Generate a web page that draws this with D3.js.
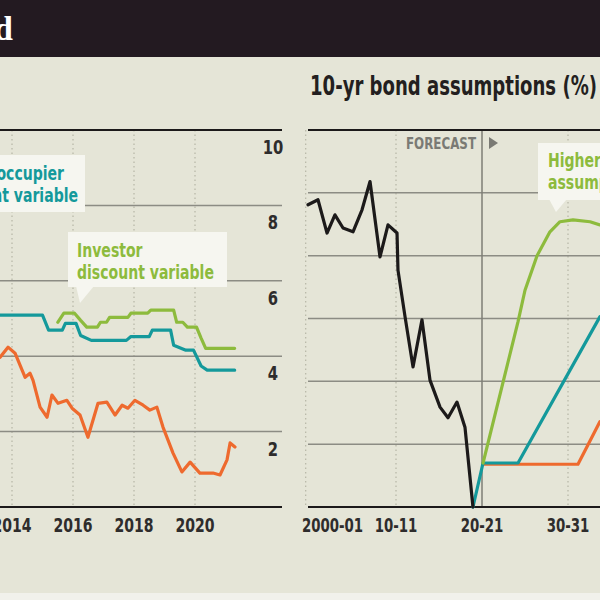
<!DOCTYPE html>
<html lang="en">
<head>
<meta charset="utf-8">
<title>Rates and bond assumptions</title>
<script src="https://d3js.org/d3.v7.min.js"></script>
<style>
  body { margin: 0; background: #f1f1eb; }
  svg { display: block; }
  text { font-family: "DejaVu Sans Condensed", "Liberation Sans Narrow", "Noto Sans", sans-serif; }
</style>
</head>
<body>
<script>
// ---- data: left panel (mortgage rates, %) ----
var leftYears = [2014, 2016, 2018, 2020];
var leftTicks = [2, 4, 6, 8, 10];

// owner-occupier discount variable (teal)
var ownerVariable = [
  [2013.6, 5.09], [2015.0, 5.09], [2015.2, 4.69], [2015.65, 4.69], [2015.75, 4.87],
  [2016.1, 4.87], [2016.25, 4.55], [2016.6, 4.42], [2017.75, 4.42], [2017.9, 4.52],
  [2018.5, 4.52], [2018.6, 4.69], [2019.2, 4.69], [2019.3, 4.29], [2019.7, 4.16],
  [2019.95, 4.16], [2020.2, 3.74], [2020.4, 3.63], [2021.3, 3.63]
];
// investor discount variable (green)
var investorVariable = [
  [2015.5, 4.9], [2015.7, 5.14], [2016.05, 5.14], [2016.25, 4.95], [2016.45, 4.77],
  [2016.8, 4.77], [2016.9, 4.9], [2017.1, 4.9], [2017.2, 5.03], [2017.8, 5.03],
  [2017.9, 5.14], [2018.45, 5.14], [2018.55, 5.22], [2019.3, 5.22], [2019.4, 4.9],
  [2019.6, 4.9], [2019.75, 4.77], [2020.05, 4.77], [2020.2, 4.48], [2020.35, 4.21],
  [2021.3, 4.21]
];
// third series (orange)
var orangeRate = [
  [2013.61, 3.97], [2013.87, 4.24], [2014.10, 4.08], [2014.43, 3.44], [2014.59, 3.55],
  [2014.69, 3.36], [2014.92, 2.65], [2015.15, 2.38], [2015.31, 2.97], [2015.51, 2.75],
  [2015.80, 2.83], [2015.97, 2.62], [2016.23, 2.44], [2016.49, 1.85], [2016.82, 2.75],
  [2017.11, 2.78], [2017.38, 2.44], [2017.61, 2.7], [2017.80, 2.62], [2018.03, 2.83],
  [2018.30, 2.7], [2018.52, 2.57], [2018.75, 2.65], [2018.95, 2.12], [2019.28, 1.43],
  [2019.57, 0.93], [2019.84, 1.19], [2020.16, 0.9], [2020.59, 0.9], [2020.82, 0.85],
  [2021.05, 1.25], [2021.15, 1.7], [2021.31, 1.59]
];

// ---- data: right panel (10-yr bond, %) ----
var bondTickYears = [2000, 2010, 2020, 2030];
var bondTickLabels = ["2000-01", "10-11", "20-21", "30-31"];
var bondGrid = [1, 2, 3, 4, 5];

var bondHistory = [
  [1999.77, 4.81], [2000.93, 4.89], [2001.98, 4.36], [2002.9, 4.65], [2003.84, 4.44],
  [2005.0, 4.38], [2006.05, 4.73], [2006.98, 5.18], [2008.14, 3.98], [2009.07, 4.49],
  [2010.12, 4.36], [2010.23, 3.77], [2011.05, 3.03], [2011.98, 2.23], [2013.02, 2.98],
  [2013.95, 2.02], [2015.12, 1.59], [2016.05, 1.42], [2017.09, 1.67], [2018.02, 1.27],
  [2018.95, 0]
];
var bondHigher = [
  [2020.12, 0.7], [2024.19, 2.95], [2025.0, 3.45], [2026.4, 4.0], [2027.9, 4.38],
  [2029.07, 4.54], [2030.58, 4.57], [2032.56, 4.54], [2033.72, 4.49]
];
var bondMid = [
  [2018.95, 0], [2020.12, 0.7], [2024.19, 0.7], [2033.72, 3.03]
];
var bondLower = [
  [2020.12, 0.68], [2031.16, 0.68], [2033.72, 1.36]
];

// ---- drawing ----
var width = 600, height = 600;
var teal = "#14999b", green = "#8dbb3d", orange = "#ee6a2e", ink = "#1c1a1a";

var svg = d3.select("body").append("svg")
  .attr("width", width)
  .attr("height", height);

// squeeze text horizontally to mimic the narrow newspaper face
function condense(sel, k) {
  sel.each(function() {
    var len = this.getComputedTextLength();
    d3.select(this).attr("textLength", len * k).attr("lengthAdjust", "spacingAndGlyphs");
  });
  return sel;
}

// background + header band
svg.append("rect").attr("x", 0).attr("y", 0).attr("width", width).attr("height", 593).attr("fill", "#e5e5d7");
svg.append("rect").attr("x", 0).attr("y", 0).attr("width", width).attr("height", 57).attr("fill", "#231a21");
svg.append("text")
  .attr("x", 13).attr("y", 40)
  .attr("text-anchor", "end")
  .attr("fill", "#fff")
  .attr("font-weight", "bold")
  .attr("font-size", 34)
  .style("font-family", "'Liberation Serif', serif")
  .text("d");

var xL = d3.scaleLinear().domain([2014, 2020]).range([12, 195]);
var yL = d3.scaleLinear().domain([0, 10]).range([507, 130]);
var xR = d3.scaleLinear().domain([2000, 2030]).range([310, 568]);
var yR = d3.scaleLinear().domain([0, 6]).range([507, 130]);

var left = svg.append("g");
var right = svg.append("g");

// left panel grid
left.selectAll(".vgrid").data(leftYears).enter().append("line")
  .attr("x1", function(d) { return xL(d); }).attr("x2", function(d) { return xL(d); })
  .attr("y1", yL(10)).attr("y2", yL(0))
  .attr("stroke", "#b5b5a6").attr("stroke-width", 1.2).attr("stroke-dasharray", "1.5,3");

left.selectAll(".hgrid").data(leftTicks.slice(0, -1)).enter().append("line")
  .attr("x1", 0).attr("x2", 282)
  .attr("y1", function(d) { return yL(d); }).attr("y2", function(d) { return yL(d); })
  .attr("stroke", "#8c8c84").attr("stroke-width", 1.5);

left.selectAll(".rule").data([0, 10]).enter().append("line")
  .attr("x1", 0).attr("x2", 282)
  .attr("y1", function(d) { return yL(d); }).attr("y2", function(d) { return yL(d); })
  .attr("stroke", ink).attr("stroke-width", 2);

left.selectAll(".ylab").data(leftTicks).enter().append("text")
  .attr("x", 273).attr("y", function(d) { return yL(d) + 24; })
  .attr("text-anchor", "middle")
  .attr("font-size", 20).attr("font-weight", "bold").attr("fill", "#2e2c2c")
  .text(function(d) { return d; })
  .call(condense, 0.82);

left.selectAll(".xlab").data(leftYears).enter().append("text")
  .attr("x", function(d) { return xL(d); }).attr("y", 532)
  .attr("text-anchor", "middle")
  .attr("font-size", 20).attr("font-weight", "bold").attr("fill", "#2e2c2c")
  .text(function(d) { return d; })
  .call(condense, 0.78);

var lineL = d3.line()
  .x(function(d) { return xL(d[0]); })
  .y(function(d) { return yL(d[1]); });

[[orangeRate, orange], [ownerVariable, teal], [investorVariable, green]].forEach(function(s) {
  left.append("path")
    .attr("d", lineL(s[0]))
    .attr("fill", "none")
    .attr("stroke", s[1])
    .attr("stroke-width", 3.2)
    .attr("stroke-linejoin", "round")
    .attr("stroke-linecap", "round");
});

// left labels
left.append("rect").attr("x", -4).attr("y", 155).attr("width", 89).attr("height", 57).attr("fill", "#f6f6f0");
left.append("text").attr("x", 64).attr("y", 180).attr("text-anchor", "end")
  .attr("font-size", 20).attr("font-weight", "bold").attr("fill", teal).text("Owner-occupier")
  .call(condense, 0.78);
left.append("text").attr("x", 78).attr("y", 202).attr("text-anchor", "end")
  .attr("font-size", 20).attr("font-weight", "bold").attr("fill", teal).text("discount variable")
  .call(condense, 0.78);

left.append("rect").attr("x", 68).attr("y", 232).attr("width", 159).attr("height", 55).attr("fill", "#f6f6f0");
left.append("path").attr("d", "M76,286L94,286L80,303Z").attr("fill", "#f6f6f0");
left.append("text").attr("x", 77).attr("y", 257)
  .attr("font-size", 20).attr("font-weight", "bold").attr("fill", green).text("Investor")
  .call(condense, 0.78);
left.append("text").attr("x", 77).attr("y", 279)
  .attr("font-size", 20).attr("font-weight", "bold").attr("fill", green).text("discount variable")
  .call(condense, 0.78);

// right panel grid
right.selectAll(".vgrid").data([1999.5].concat(bondTickYears.filter(function(d) { return d !== 2020 && d !== 2000; }))).enter().append("line")
  .attr("x1", function(d) { return xR(d); }).attr("x2", function(d) { return xR(d); })
  .attr("y1", yR(6)).attr("y2", yR(0))
  .attr("stroke", "#b5b5a6").attr("stroke-width", 1.2).attr("stroke-dasharray", "1.5,3");

right.selectAll(".hgrid").data(bondGrid).enter().append("line")
  .attr("x1", 308).attr("x2", width)
  .attr("y1", function(d) { return yR(d); }).attr("y2", function(d) { return yR(d); })
  .attr("stroke", "#8c8c84").attr("stroke-width", 1.5);

right.append("line")
  .attr("x1", xR(2020)).attr("x2", xR(2020))
  .attr("y1", yR(6)).attr("y2", yR(0))
  .attr("stroke", "#7e7e76").attr("stroke-width", 1.5);

right.selectAll(".rule").data([0, 6]).enter().append("line")
  .attr("x1", 308).attr("x2", width)
  .attr("y1", function(d) { return yR(d); }).attr("y2", function(d) { return yR(d); })
  .attr("stroke", ink).attr("stroke-width", 2);

right.selectAll(".xlab").data(bondTickYears).enter().append("text")
  .attr("x", function(d, i) { return i === 0 ? xR(d) - 8 : xR(d); }).attr("y", 532)
  .attr("text-anchor", function(d, i) { return i === 0 ? "start" : "middle"; })
  .attr("font-size", 20).attr("font-weight", "bold").attr("fill", "#2e2c2c")
  .text(function(d, i) { return bondTickLabels[i]; })
  .call(condense, 0.74);

right.append("text")
  .attr("x", 310).attr("y", 95)
  .attr("font-size", 27).attr("font-weight", "bold").attr("fill", "#231f20")
  .attr("textLength", 287).attr("lengthAdjust", "spacingAndGlyphs")
  .text("10-yr bond assumptions (%)");

right.append("text")
  .attr("x", 476).attr("y", 149)
  .attr("text-anchor", "end")
  .attr("font-size", 15).attr("font-weight", "bold").attr("fill", "#7a7a74")
  .text("FORECAST")
  .call(condense, 0.88);
right.append("path").attr("d", "M489,137L498,143L489,149Z").attr("fill", "#7a7a74");

var lineR = d3.line()
  .x(function(d) { return xR(d[0]); })
  .y(function(d) { return yR(d[1]); });

[[bondLower, orange], [bondMid, teal], [bondHigher, green], [bondHistory, ink]].forEach(function(s) {
  right.append("path")
    .attr("d", lineR(s[0]))
    .attr("fill", "none")
    .attr("stroke", s[1])
    .attr("stroke-width", 3.2)
    .attr("stroke-linejoin", "round")
    .attr("stroke-linecap", "round");
});

// higher assumption label
right.append("rect").attr("x", 538).attr("y", 143).attr("width", 70).attr("height", 57).attr("fill", "#f6f6f0");
right.append("path").attr("d", "M549,199L567,199L556,212Z").attr("fill", "#f6f6f0");
right.append("text").attr("x", 548).attr("y", 167)
  .attr("font-size", 20).attr("font-weight", "bold").attr("fill", green).text("Higher")
  .call(condense, 0.78);
right.append("text").attr("x", 548).attr("y", 189)
  .attr("font-size", 20).attr("font-weight", "bold").attr("fill", green).text("assumption")
  .call(condense, 0.78);
</script>
</body>
</html>
